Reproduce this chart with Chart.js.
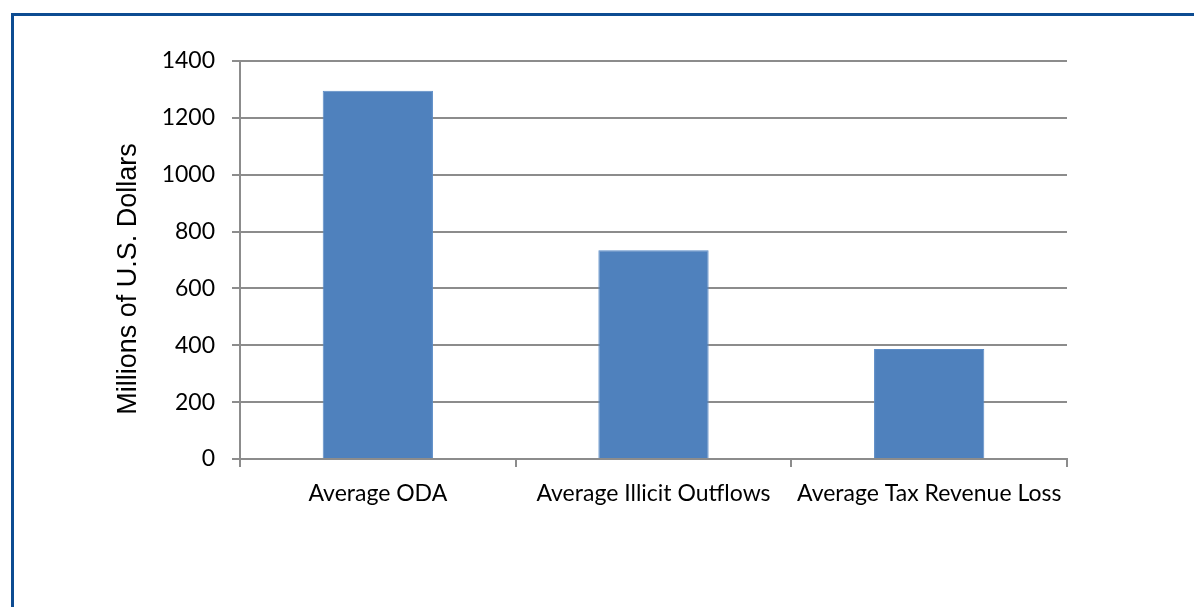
<!DOCTYPE html>
<html>
<head>
<meta charset="utf-8">
<script src="https://cdn.jsdelivr.net/npm/chart.js@4.4.0/dist/chart.umd.min.js"></script>
<style>
  html, body { margin: 0; padding: 0; background: #fff; }
  #wrap { position: relative; width: 1194px; height: 607px; overflow: hidden; }
  #frame { position: absolute; left: 11px; top: 13px; right: -10px; bottom: -10px;
           border-left: 3px solid #0d4c92; border-top: 3px solid #0d4c92; pointer-events: none; }
  canvas { position: absolute; left: 0; top: 0; }
</style>
</head>
<body>
<div id="wrap">
  <canvas id="chart" width="1194" height="607"></canvas>
  <div id="frame"></div>
</div>
<script>
const categories = ['Average ODA', 'Average Illicit Outflows', 'Average Tax Revenue Loss'];
const values = [1295, 734, 387];
const yTicks = [0, 200, 400, 600, 800, 1000, 1200, 1400];
const yTitle = 'Millions of U.S. Dollars';

const gridColor = '#8c8c8c';
const tickFont = { family: 'Lato', size: 23 };

// y axis title drawn by hand so it can sit where the original has it
const yTitlePlugin = {
    id: 'yTitlePlugin',
    afterDraw(chart) {
        const ctx = chart.ctx;
        ctx.save();
        ctx.translate(129, 279);
        ctx.rotate(-Math.PI / 2);
        ctx.font = '27px "Liberation Sans"';
        ctx.fillStyle = '#000';
        ctx.textAlign = 'center';
        ctx.textBaseline = 'middle';
        ctx.fillText(yTitle, 0, 0);
        ctx.restore();
    }
};

new Chart(document.getElementById('chart').getContext('2d'), {
    type: 'bar',
    data: {
        labels: categories,
        datasets: [{
            data: values,
            backgroundColor: '#4f81bd',
            borderColor: '#5a8bc6',
            borderWidth: 1,
            categoryPercentage: 1.0,
            barPercentage: 0.4
        }]
    },
    options: {
        responsive: false, animation: false,
        layout: { padding: { left: 0, right: 127, top: 61, bottom: 0 } },
        plugins: { legend: { display: false }, tooltip: { enabled: false } },
        scales: {
            x: {
                grid: { offset: true, drawOnChartArea: false, drawTicks: true, tickLength: 8, color: gridColor, lineWidth: 2 },
                border: { display: true, color: gridColor, width: 2 },
                ticks: { font: tickFont, color: '#000', padding: 13, maxRotation: 0 },
                afterFit(scale) { scale.height = 148; }
            },
            y: {
                min: 0, max: 1400,
                afterBuildTicks(scale) { scale.ticks = yTicks.map(v => ({ value: v })); },
                grid: { color: gridColor, lineWidth: 2, tickLength: 8 },
                border: { display: true, color: gridColor, width: 2 },
                ticks: { font: tickFont, color: '#000', padding: 17, callback: v => String(v) },
                afterFit(scale) { scale.width = 240; }
            }
        }
    },
    plugins: [yTitlePlugin]
});
</script>
</body>
</html>
